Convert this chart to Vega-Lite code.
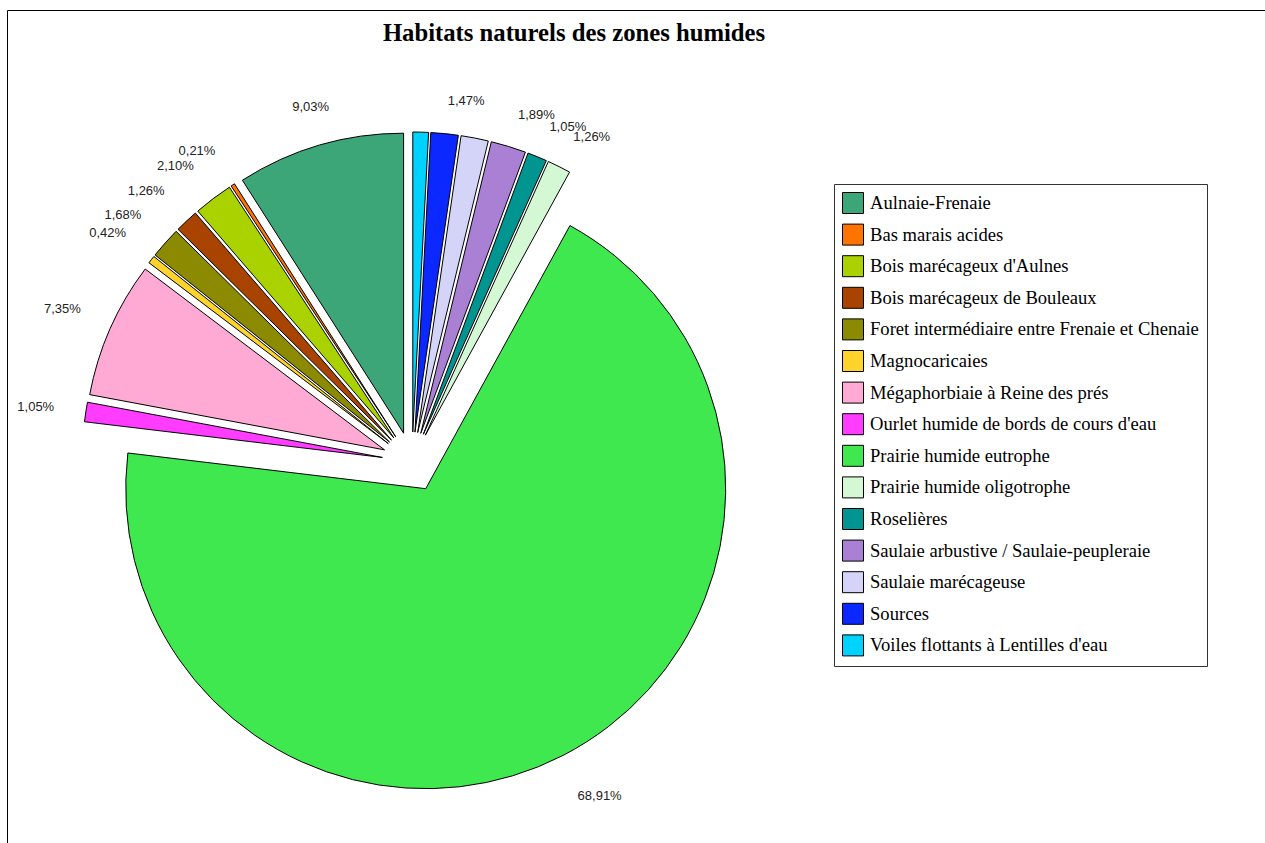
{
  "$schema": "https://vega.github.io/schema/vega-lite/v6.json",
  "width": 824,
  "height": 760,
  "autosize": {"type": "none"},
  "padding": {"left": 0, "top": 82, "right": 441, "bottom": 1},
  "background": "white",
  "title": {
    "text": "Habitats naturels des zones humides",
    "font": "Liberation Serif",
    "fontSize": 24.7,
    "fontWeight": "bold",
    "color": "#000000",
    "anchor": "middle",
    "dx": 162,
    "offset": -36
  },
  "config": {
    "view": {"stroke": null},
    "locale": {"number": {"decimal": ",", "thousands": " ", "grouping": [3], "currency": ["", " €"]}}
  },
  "data": {
    "values": [
      {"habitat": "Aulnaie-Frenaie", "share": 0.0903},
      {"habitat": "Bas marais acides", "share": 0.0021},
      {"habitat": "Bois marécageux d'Aulnes", "share": 0.021},
      {"habitat": "Bois marécageux de Bouleaux", "share": 0.0126},
      {"habitat": "Foret intermédiaire entre Frenaie et Chenaie", "share": 0.0168},
      {"habitat": "Magnocaricaies", "share": 0.0042},
      {"habitat": "Mégaphorbiaie à Reine des prés", "share": 0.0735},
      {"habitat": "Ourlet humide de bords de cours d'eau", "share": 0.0105},
      {"habitat": "Prairie humide eutrophe", "share": 0.6891},
      {"habitat": "Prairie humide oligotrophe", "share": 0.0126},
      {"habitat": "Roselières", "share": 0.0105},
      {"habitat": "Saulaie arbustive / Saulaie-peupleraie", "share": 0.0189},
      {"habitat": "Saulaie marécageuse", "share": 0.0147},
      {"habitat": "Sources", "share": 0.0147},
      {"habitat": "Voiles flottants à Lentilles d'eau", "share": 0.0084}
    ]
  },
  "layer": [
    {
      "mark": {
        "type": "arc",
        "outerRadius": 300,
        "stroke": "#000000",
        "strokeWidth": 1,
        "xOffset": {"expr": "30*sin(PI*(datum.share_start+datum.share_end))"},
        "yOffset": {"expr": "-30*cos(PI*(datum.share_start+datum.share_end))"}
      },
      "encoding": {
        "theta": {"field": "share", "type": "quantitative", "stack": "normalize"},
        "order": {"field": "habitat", "type": "ordinal", "sort": "descending"},
        "color": {
          "field": "habitat",
          "type": "nominal",
          "scale": {
            "domain": ["Aulnaie-Frenaie", "Bas marais acides", "Bois marécageux d'Aulnes", "Bois marécageux de Bouleaux", "Foret intermédiaire entre Frenaie et Chenaie", "Magnocaricaies", "Mégaphorbiaie à Reine des prés", "Ourlet humide de bords de cours d'eau", "Prairie humide eutrophe", "Prairie humide oligotrophe", "Roselières", "Saulaie arbustive / Saulaie-peupleraie", "Saulaie marécageuse", "Sources", "Voiles flottants à Lentilles d'eau"],
            "range": ["#3DA678", "#FF7400", "#AAD200", "#A84400", "#8C8A00", "#FFD42A", "#FFAAD4", "#FF3CFF", "#40E850", "#D4F8D4", "#009590", "#AA80D5", "#D4D4F8", "#0A28FF", "#00D2FF"]
          },
          "legend": {
            "orient": "none",
            "legendX": 834,
            "legendY": 102,
            "title": null,
            "symbolType": "square",
            "symbolSize": 441,
            "symbolStrokeColor": "#000000",
            "symbolStrokeWidth": 1,
            "symbolOpacity": 1,
            "labelFont": "Liberation Serif",
            "labelFontSize": 18.6,
            "labelColor": "#000000",
            "labelLimit": 0,
            "labelOffset": 6,
            "padding": 8,
            "rowPadding": 5.6,
            "strokeColor": "#333333"
          }
        },
        "fillOpacity": {
          "datum": "cadre2",
          "type": "nominal",
          "scale": {"range": [1]},
          "legend": {
            "orient": "none",
            "legendX": 8,
            "legendY": -71,
            "title": null,
            "padding": 700,
            "strokeColor": "#000000",
            "symbolSize": 0,
            "symbolOpacity": 0,
            "symbolFillColor": "transparent",
            "symbolStrokeColor": "transparent",
            "symbolStrokeWidth": 0,
            "labelOpacity": 0
          }
        }
      }
    },
    {
      "mark": {
        "type": "text",
        "radius": 362,
        "font": "Liberation Sans",
        "fontSize": 13,
        "color": "#222222",
        "dy": {"expr": "sin(PI*(datum.share_start+datum.share_end)) > 0 ? 6.5 : 0"},
        "align": {"expr": "(datum.share_start+datum.share_end) > 1.875 ? 'center' : (sin(PI*(datum.share_start+datum.share_end)) >= 0 ? 'left' : 'right')"},
        "baseline": {"expr": "abs(cos(PI*(datum.share_start+datum.share_end))) < 0.2 ? 'middle' : (cos(PI*(datum.share_start+datum.share_end)) > 0 ? 'bottom' : 'top')"}
      },
      "encoding": {
        "theta": {"field": "share", "type": "quantitative", "stack": "normalize"},
        "order": {"field": "habitat", "type": "ordinal", "sort": "descending"},
        "text": {
          "condition": {"test": "indexof(datum.habitat, 'Voiles') == 0 || datum.habitat == 'Saulaie marécageuse'", "value": ""},
          "field": "share",
          "type": "quantitative",
          "format": ".2%"
        },
        "opacity": {
          "datum": "cadre",
          "type": "nominal",
          "scale": {"range": [1]},
          "legend": {
            "orient": "none",
            "legendX": 7,
            "legendY": -72,
            "title": null,
            "padding": 700,
            "strokeColor": "#000000",
            "symbolSize": 0,
            "symbolOpacity": 0,
            "symbolFillColor": "transparent",
            "symbolStrokeColor": "transparent",
            "symbolStrokeWidth": 0,
            "labelOpacity": 0
          }
        }
      }
    }
  ]
}
